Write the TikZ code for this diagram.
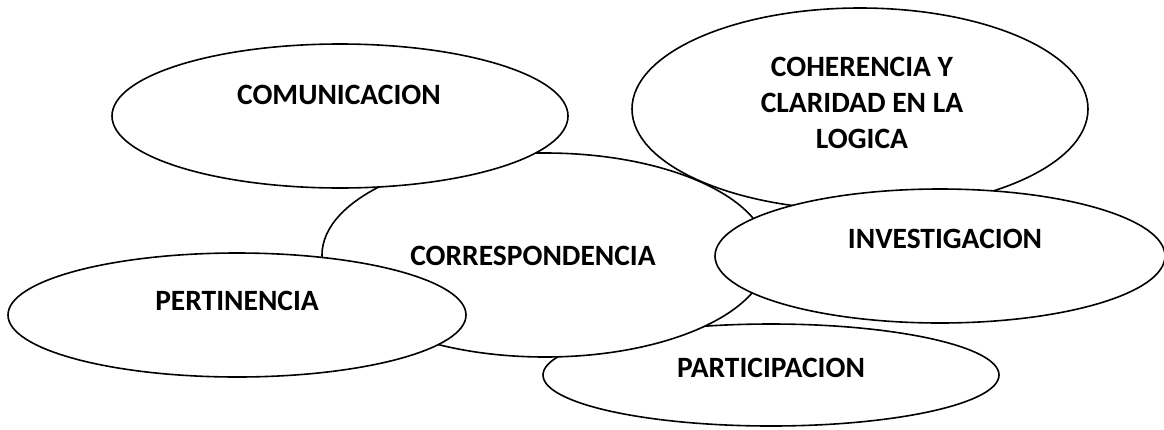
\documentclass[tikz,border=0pt]{standalone}
\usepackage{fontspec}
\setmainfont{Carlito}
\usetikzlibrary{shapes.geometric}
\tikzset{
  ell/.style={ellipse, draw=black, fill=white, line width=1.6pt, inner sep=0pt},
  lbl/.style={font=\fontsize{29.5}{36}\selectfont\bfseries, align=center, inner sep=0pt}
}
\begin{document}
\begin{tikzpicture}[x=1pt,y=-1pt]
\useasboundingbox (0,0) rectangle (1164,429);
\fill[white] (0,0) rectangle (1164,429);
\node[ell, minimum width=456pt, minimum height=102pt] (par) at (771,375) {};
\node[ell, minimum width=446pt, minimum height=204pt] (cor) at (545,255) {};
\node[ell, minimum width=456pt, minimum height=144pt] (com) at (340,116) {};
\node[ell, minimum width=456pt, minimum height=202pt] (coh) at (860,109) {};
\node[ell, minimum width=450pt, minimum height=134pt] (inv) at (940,256) {};
\node[ell, minimum width=458pt, minimum height=124pt] (per) at (237,315) {};
\node[lbl] (tpar) at (771,368) {PARTICIPACION};
\node[lbl] (tcor) at (533,256) {CORRESPONDENCIA};
\node[lbl] (tcom) at (339,95) {COMUNICACION};
\node[lbl] (tcoh) at (862,103) {COHERENCIA Y\\CLARIDAD EN LA\\LOGICA};
\node[lbl] (tinv) at (945,239) {INVESTIGACION};
\node[lbl] (tper) at (237,301) {PERTINENCIA};
\end{tikzpicture}
\end{document}
